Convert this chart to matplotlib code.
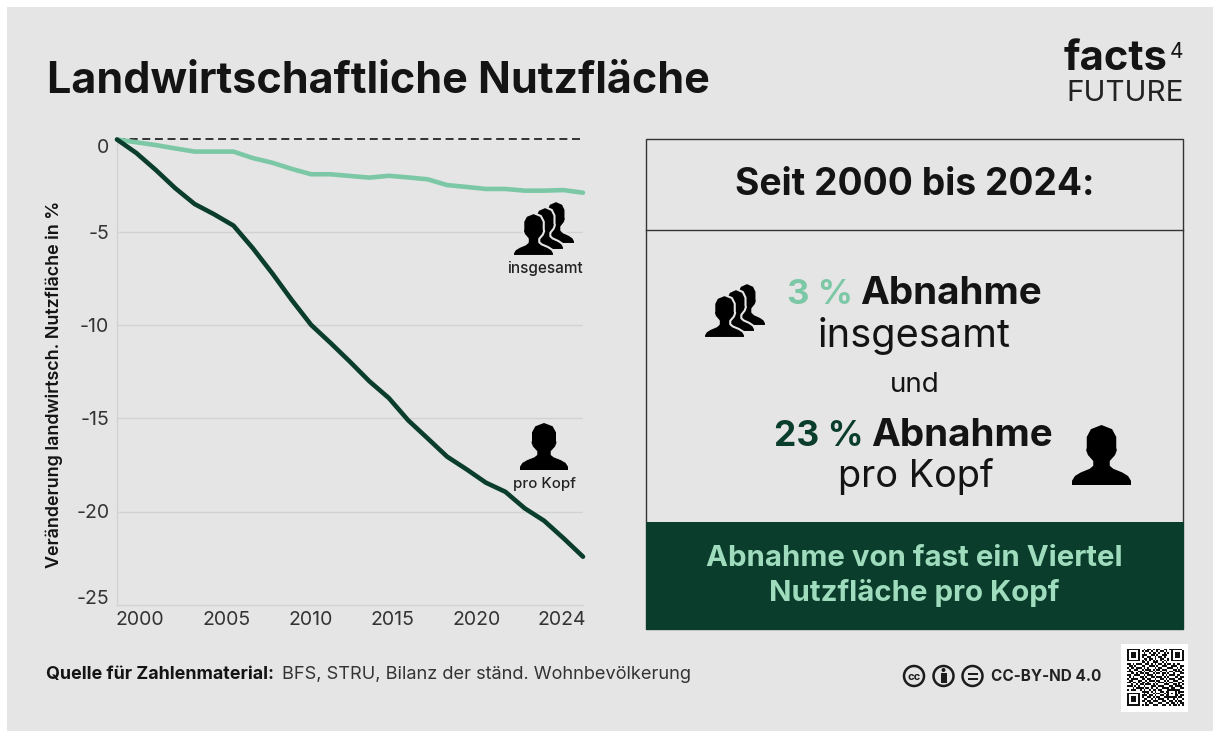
import matplotlib
matplotlib.use("Agg")
from matplotlib import pyplot as plt
from matplotlib.patches import Rectangle, Circle, PathPatch
from matplotlib.path import Path

plt.rcParams['font.family'] = ['Inter', 'DejaVu Sans']

years = list(range(2000, 2025))
insgesamt = [0, -0.15, -0.3, -0.48, -0.65, -0.65, -0.65, -1.0, -1.25, -1.58, -1.87, -1.87, -1.96,
             -2.05, -1.95, -2.04, -2.14, -2.45, -2.55, -2.66, -2.66, -2.75, -2.75, -2.72, -2.86]
pro_kopf = [0, -0.73, -1.64, -2.62, -3.47, -4.02, -4.63, -5.85, -7.2, -8.63, -9.97, -10.94, -11.95,
            -13.0, -13.9, -15.1, -16.07, -17.05, -17.73, -18.45, -18.94, -19.83, -20.5, -21.44, -22.43]
y_ticks = [0, -5, -10, -15, -20, -25]
x_tick_labels = ['2000', '2005', '2010', '2015', '2020', '2024']
# the labels in the original are spread evenly, not at their true years
x_tick_pos = [2001.2, 2005.65, 2010, 2014.2, 2018.5, 2022.9]

qr = ["1111111001011010110011011111110",
      "1000001010110100101101001000001",
      "1011101001001011010010101011101",
      "1011101011100110100111001011101",
      "1011101010011001011010001011101",
      "1000001001101101001100101000001",
      "1111111010101010101010101111111",
      "0000000011010011100101000000000",
      "1101011100110101011010110101100",
      "0110100011001110100111001110011",
      "1011011101010001011000111001010",
      "0100110010111010110111000110101",
      "1110001101001101001001011011110",
      "0011010110110010110110100100011",
      "1100111001011101000101011101100",
      "0101000110100110111010100011011",
      "1011110011011001001101011100110",
      "0110001100101110110010100111001",
      "1101101011010001011101011000110",
      "0010010110111010100011100110101",
      "1110101001000111011100011011110",
      "0001011110110100100111101100011",
      "1011100101001011011000111111100",
      "0000000011110101001101100010111",
      "1111111001010010110010101010100",
      "1000001011101101001101100011011",
      "1011101010011010110011111110110",
      "1011101001100101011100100101001",
      "1011101011011011100110011010110",
      "1000001000101100011001101101011",
      "1111111010110011100110010110101"]

BG = '#e5e5e5'
DARK = '#0a3d2b'
LIGHT = '#7cc8a6'
INK = '#141414'
W, H = 1213, 731

fig = plt.figure(figsize=(W / 100, H / 100), dpi=100, facecolor='white')

# overlay in pixel coordinates for the panel, texts and icons
ov = fig.add_axes([0, 0, 1, 1], zorder=0)
ov.set_xlim(0, W)
ov.set_ylim(H, 0)
ov.axis('off')
ov.add_patch(Rectangle((7, 7), 1206, 724, fc=BG, ec='none'))

top = fig.add_axes([0, 0, 1, 1], zorder=2)
top.set_xlim(0, W)
top.set_ylim(H, 0)
top.axis('off')
top.patch.set_alpha(0)

# chart
ax = fig.add_axes([117 / W, 1 - 604.5 / H, 466 / W, 465 / H], zorder=1)
ax.patch.set_alpha(0)
ax.set_xlim(2000, 2024)
ax.set_ylim(-25, 0)
for s in ['top', 'right']:
    ax.spines[s].set_visible(False)
for s in ['left', 'bottom']:
    ax.spines[s].set_color('#d2d2d2')
    ax.spines[s].set_linewidth(1)
for v in y_ticks[1:-1]:
    ax.axhline(v, color='#d2d2d2', lw=1, zorder=1)
ax.axhline(0, color='#333333', lw=1.4, dashes=(4.1, 2.4), zorder=2, clip_on=False)
ax.plot(years, insgesamt, color=LIGHT, lw=3.3, zorder=3, clip_on=False, solid_capstyle='round')
ax.plot(years, pro_kopf, color=DARK, lw=3.3, zorder=4, clip_on=False, solid_capstyle='round')
ax.set_yticks(y_ticks)
ax.set_yticklabels(y_ticks, fontsize=14, color='#333333')
ax.yaxis.get_ticklabels()[0].set_va('top')
ax.yaxis.get_ticklabels()[-1].set_va('baseline')
ax.set_xticks(x_tick_pos)
ax.set_xticklabels(x_tick_labels, fontsize=14, color='#333333')
ax.tick_params(length=0)
ax.tick_params(axis='x', pad=5)
ax.tick_params(axis='y', pad=5.5)


def t(x, y, s, size, weight='normal', color=INK, ha='left', va='baseline', **kw):
    return top.text(x, y, s, fontsize=size, fontweight=weight, color=color, ha=ha, va=va, **kw)


person = [(0, 1), (0, .93), (.05, .85), (.15, .79), (.30, .73), (.36, .68), (.36, .60), (.27, .50),
          (.24, .42), (.25, .38), (.25, .2), (.32, .07), (.5, 0), (.68, .07), (.75, .2), (.75, .38),
          (.76, .42), (.73, .5), (.64, .60), (.64, .68), (.70, .73), (.85, .79), (.95, .85), (1, .93),
          (1, 1), (0, 1)]


def draw_person(x0, y0, w, h, edge='none', lw=0, z=5):
    pts = [(x0 + px * w, y0 + py * h) for px, py in person]
    top.add_patch(PathPatch(Path(pts, closed=True), fc='black', ec=edge, lw=lw, zorder=z, joinstyle='round'))


def draw_group(x0, y0):
    # x0, y0 = upper left of the front figure
    draw_person(x0 + 24, y0 - 12, 38, 43, BG, 1.5, 5)
    draw_person(x0 + 13, y0 - 6, 38, 43, BG, 1.5, 6)
    draw_person(x0, y0, 41, 43, BG, 1.5, 7)


# header
t(47, 93, 'Landwirtschaftliche Nutzfläche', 31, 'bold', INK)
t(1064, 70, 'facts', 30, 'bold', INK)
t(1170, 58, '4', 15, 'normal', INK)
t(1066, 101, 'FUTURE', 21.3, 'normal', '#222222')

# chart labels
t(54, 384, 'Veränderung landwirtsch. Nutzfläche in %', 12.9, 'semibold', INK, ha='center', va='center', rotation=90)
draw_group(513, 213)
t(544.5, 273, 'insgesamt', 11, 'medium', '#222222', ha='center')
draw_person(520, 423, 48, 47)
t(544.5, 488, 'pro Kopf', 10.8, 'medium', '#222222', ha='center')

# right panel
top.add_patch(Rectangle((646, 139), 537, 490, fc='none', ec='#333333', lw=1))
top.plot([646, 1183], [230, 230], color='#333333', lw=1)
top.add_patch(Rectangle((646, 522), 537.5, 107.5, fc=DARK, ec='none'))
t(914.5, 195, 'Seit 2000 bis 2024:', 26.8, 'bold', INK, ha='center')

t(853, 304, '3 %', 25, 'bold', LIGHT, ha='right')
t(860, 304, 'Abnahme', 27.8, 'bold', INK)
t(914.5, 347, 'insgesamt', 28.6, 'normal', INK, ha='center')
t(914.5, 392, 'und', 20, 'normal', INK, ha='center')
t(864, 446, '23 %', 25.5, 'bold', DARK, ha='right')
t(871, 446, 'Abnahme', 27.8, 'bold', INK)
t(915.5, 487, 'pro Kopf', 27.3, 'normal', INK, ha='center')
draw_group(704, 295)
draw_person(1072, 425, 59, 60)

t(914.5, 566, 'Abnahme von fast ein Viertel', 21.2, 'bold', '#9fdcbd', ha='center')
t(914.5, 601, 'Nutzfläche pro Kopf', 21.2, 'bold', '#9fdcbd', ha='center')

# footer
t(46, 679, 'Quelle für Zahlenmaterial:', 12.9, 'bold', INK)
t(282, 679, 'BFS, STRU, Bilanz der ständ. Wohnbevölkerung', 13.1, 'normal', '#333333')
t(991, 681, 'CC-BY-ND 4.0', 11, 'bold', '#222222')

# licence badges
for cx in [914, 943.5, 972.5]:
    top.add_patch(Circle((cx, 676), 10, fc='none', ec='#1c1c1c', lw=1.8))
t(914, 676.5, 'cc', 8, 'bold', '#1c1c1c', ha='center', va='center')
top.add_patch(Circle((943.5, 670), 2, fc='#1c1c1c', ec='none'))
top.add_patch(Rectangle((940.5, 673), 6, 10, fc='#1c1c1c', ec='none'))
top.add_patch(Rectangle((967.5, 672.5), 10, 2, fc='#1c1c1c', ec='none'))
top.add_patch(Rectangle((967.5, 677.5), 10, 2, fc='#1c1c1c', ec='none'))

# qr code
top.add_patch(Rectangle((1121, 644), 67, 68, fc='white', ec='none'))
cell = 57.0 / len(qr)
for r, row in enumerate(qr):
    for c, v in enumerate(row):
        if v == '1':
            top.add_patch(Rectangle((1127 + c * cell, 648.5 + r * cell), cell, cell, fc='#111111', ec='none'))

fig.savefig('out.png', dpi=100, facecolor='white')
